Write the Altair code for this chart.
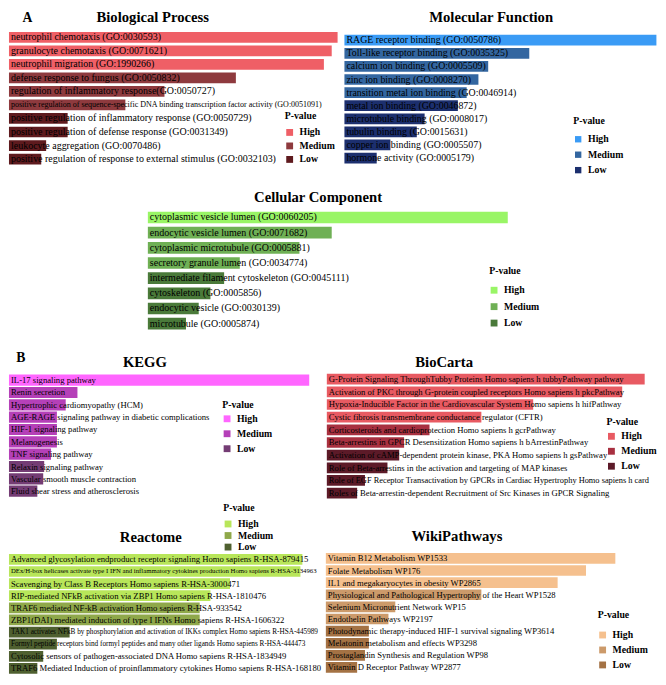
import altair as alt
import pandas as pd

# ---------------- data ----------------
levels3 = ["High", "Medium", "Low"]

bp_terms = [
    "neutrophil chemotaxis (GO:0030593)",
    "granulocyte chemotaxis (GO:0071621)",
    "neutrophil migration (GO:1990266)",
    "defense response to fungus (GO:0050832)",
    "regulation of inflammatory response(GO:0050727)",
    "positive regulation of sequence-specific DNA binding transcription factor activity (GO:0051091)",
    "positive regulation of inflammatory response (GO:0050729)",
    "positive regulation of defense response (GO:0031349)",
    "leukocyte aggregation (GO:0070486)",
    "positive regulation of response to external stimulus (GO:0032103)",
]
bp_values = [336, 330, 322, 232, 159, 119, 60, 60, 38, 33]
bp_levels = ["High"] * 3 + ["Medium"] * 3 + ["Low"] * 4

mf_terms = [
    "RAGE receptor binding (GO:0050786)",
    "Toll-like receptor binding (GO:0035325)",
    "calcium ion binding (GO:0005509)",
    "zinc ion binding (GO:0008270)",
    "transition metal ion binding (GO:0046914)",
    "metal ion binding (GO:0046872)",
    "microtubule binding (GO:0008017)",
    "tubulin binding (GO:0015631)",
    "copper ion binding (GO:0005507)",
    "hormone activity (GO:0005179)",
]
mf_values = [319, 189, 147, 137, 125, 116, 82, 74, 47, 33]
mf_levels = ["High"] + ["Medium"] * 4 + ["Low"] * 5

cc_terms = [
    "cytoplasmic vesicle lumen (GO:0060205)",
    "endocytic vesicle lumen (GO:0071682)",
    "cytoplasmic microtubule (GO:0005881)",
    "secretory granule lumen (GO:0034774)",
    "intermediate filament cytoskeleton (GO:0045111)",
    "cytoskeleton (GO:0005856)",
    "endocytic vesicle (GO:0030139)",
    "microtubule (GO:0005874)",
]
cc_values = [368, 188, 155, 94, 78, 64, 52, 39]
cc_levels = ["High"] + ["Medium"] * 3 + ["Low"] * 4

kegg_terms = [
    "IL-17 signaling pathway",
    "Renin secretion",
    "Hypertrophic cardiomyopathy (HCM)",
    "AGE-RAGE signaling pathway in diabetic complications",
    "HIF-1 signaling pathway",
    "Melanogenesis",
    "TNF signaling pathway",
    "Relaxin signaling pathway",
    "Vascular smooth muscle contraction",
    "Fluid shear stress and atherosclerosis",
]
kegg_values = [307, 70, 58, 49, 49, 49, 43, 36, 35, 29]
kegg_levels = ["High"] + ["Medium"] * 6 + ["Low"] * 3

bio_terms = [
    "G-Protein Signaling ThroughTubby Proteins Homo sapiens h tubbyPathway pathway",
    "Activation of PKC through G-protein coupled receptors Homo sapiens h pkcPathway",
    "Hypoxia-Inducible Factor in the Cardiovascular System Homo sapiens h hifPathway",
    "Cystic fibrosis transmembrane conductance regulator (CFTR)",
    "Corticosteroids and cardioprotection Homo sapiens h gcrPathway",
    "Beta-arrestins in GPCR Desensitization Homo sapiens h bArrestinPathway",
    "Activation of cAMP-dependent protein kinase, PKA Homo sapiens h gsPathway",
    "Role of Beta-arrestins in the activation and targeting of MAP kinases",
    "Role of EGF Receptor Transactivation by GPCRs in Cardiac Hypertrophy Homo sapiens h card",
    "Roles of Beta-arrestin-dependent Recruitment of Src Kinases in GPCR Signaling",
]
bio_values = [325, 302, 211, 158, 105, 79, 74, 62, 39, 31]
bio_levels = ["High"] * 4 + ["Medium"] * 2 + ["Low"] * 4

rea_terms = [
    "Advanced glycosylation endproduct receptor signaling Homo sapiens R-HSA-879415",
    "DEx/H-box helicases activate type I IFN and inflammatory cytokines production Homo sapiens R-HSA-3134963",
    "Scavenging by Class B Receptors Homo sapiens R-HSA-3000471",
    "RIP-mediated NFkB activation via ZBP1 Homo sapiens R-HSA-1810476",
    "TRAF6 mediated NF-kB activation Homo sapiens R-HSA-933542",
    "ZBP1(DAI) mediated induction of type I IFNs Homo sapiens R-HSA-1606322",
    "TAK1 activates NFkB by phosphorylation and activation of IKKs complex Homo sapiens R-HSA-445989",
    "Formyl peptide receptors bind formyl peptides and many other ligands Homo sapiens R-HSA-444473",
    "Cytosolic sensors of pathogen-associated DNA Homo sapiens R-HSA-1834949",
    "TRAF6 Mediated Induction of proinflammatory cytokines Homo sapiens R-HSA-168180",
]
rea_values = [300, 298, 226, 206, 195, 195, 62, 49, 35, 29]
rea_levels = ["High"] * 4 + ["Medium"] * 2 + ["Low"] * 4

wiki_terms = [
    "Vitamin B12 Metabolism WP1533",
    "Folate Metabolism WP176",
    "IL1 and megakaryocytes in obesity WP2865",
    "Physiological and Pathological Hypertrophy of the Heart WP1528",
    "Selenium Micronutrient Network WP15",
    "Endothelin Pathways WP2197",
    "Photodynamic therapy-induced HIF-1 survival signaling WP3614",
    "Melatonin metabolism and effects WP3298",
    "Prostaglandin Synthesis and Regulation WP98",
    "Vitamin D Receptor Pathway WP2877",
]
wiki_values = [296, 266, 237, 159, 71, 64, 44, 44, 40, 32]
wiki_levels = ["High"] * 3 + ["Medium"] * 3 + ["Low"] * 4

# ---------------- styles / layout ----------------
S = 0.978
SY = 0.974
FONT = "Liberation Serif"


def cx(x):
    return (x - 1) * S


def cy(y):
    return 3 + (y - 2) * SY


panels = [
    dict(terms=bp_terms, values=bp_values, levels=bp_levels,
         colors=["#EF5F66", "#8E3A3E", "#5E1A1E"],
         x0=2, y_first=29, y_last=154, bar_h=11, fs=10.2, small={5: 8.2},
         leg=dict(x=284, y=105, sw=7, row=14, gap=16)),
    dict(terms=mf_terms, values=mf_values, levels=mf_levels,
         colors=["#3A9BF5", "#3366A0", "#1C2F6E"],
         x0=345, y_first=32, y_last=153, bar_h=11, fs=10.1, small={},
         leg=dict(x=579, y=110, sw=6.5, row=16, gap=18)),
    dict(terms=cc_terms, values=cc_values, levels=cc_levels,
         colors=["#99F566", "#6FB055", "#4A7A3A"],
         x0=144, y_first=214, y_last=323, bar_h=12, fs=10.2, small={},
         leg=dict(x=493, y=264, sw=7, row=17, gap=19)),
    dict(terms=kegg_terms, values=kegg_values, levels=kegg_levels,
         colors=["#FF66FF", "#B540B8", "#743C74"],
         x0=2, y_first=381, y_last=495, bar_h=11.5, fs=8.85, small={},
         leg=dict(x=220, y=401, sw=7, row=15.5, gap=14)),
    dict(terms=bio_terms, values=bio_values, levels=bio_levels,
         colors=["#E85A62", "#A83040", "#5C1A28"],
         x0=327, y_first=380, y_last=497, bar_h=11, fs=8.85, small={8: 8.55},
         leg=dict(x=613, y=419, sw=7, row=15.5, gap=14)),
    dict(terms=rea_terms, values=rea_values, levels=rea_levels,
         colors=["#B8E65A", "#8FA84A", "#4F6030"],
         x0=2, y_first=565, y_last=677, bar_h=11, fs=8.85, small={1: 6.9, 6: 7.4, 7: 7.4},
         leg=dict(x=221, y=507, sw=7, row=12, gap=16)),
    dict(terms=wiki_terms, values=wiki_values, levels=wiki_levels,
         colors=["#F5C08E", "#CC9A6A", "#A47244"],
         x0=326, y_first=564, y_last=676, bar_h=11, fs=8.8, small={},
         leg=dict(x=604, y=617, sw=7, row=15.5, gap=20)),
]

titles = [
    ("A", 21, 13, 14), ("Biological Process", 149, 13, 15), ("Molecular Function", 495, 13, 15),
    ("Cellular Component", 318, 198, 15), ("B", 14, 362, 14), ("KEGG", 141, 367, 15),
    ("BioCarta", 447, 367, 15), ("Reactome", 147, 547, 15), ("WikiPathways", 460, 546, 15),
]


def make_panel(P):
    terms = P["terms"]
    n = len(terms)
    pitch = (P["y_last"] - P["y_first"]) / (n - 1)
    p = 1 - P["bar_h"] / pitch
    df = pd.DataFrame({
        "term": terms,
        "value": P["values"],
        "level": P["levels"],
        "fs": [P["small"].get(i, P["fs"]) * S for i in range(n)],
    })
    xs = alt.Scale(domain=[0, 100], range=[cx(P["x0"]), cx(P["x0"] + 100)], nice=False, zero=False)
    ys = alt.Scale(domain=terms, range=[cy(P["y_first"] - pitch / 2), cy(P["y_last"] + pitch / 2)],
                   paddingInner=p, paddingOuter=p / 2)
    L = P["leg"]
    lab_fs = 10 * S
    legend = alt.Legend(
        title="P-value", orient="none", legendX=cx(L["x"]), legendY=cy(L["y"]),
        padding=0, offset=0,
        titleFont=FONT, titleFontSize=lab_fs, titleFontWeight="bold", titleColor="black",
        labelFont=FONT, labelFontSize=lab_fs, labelFontWeight="bold", labelColor="black",
        symbolType="square", symbolSize=(L["sw"] * S) ** 2, symbolStrokeWidth=0,
        symbolOpacity=1, labelOffset=5,
        rowPadding=max(0.5, (L["row"] - 10) * SY - 1.4), titlePadding=(L["gap"] - 10) * SY + 0.6,
    )
    base = alt.Chart(df)
    bars = base.mark_bar(opacity=1).encode(
        x=alt.X("value:Q", scale=xs, axis=None),
        y=alt.Y("term:N", scale=ys, axis=None, sort=terms),
        color=alt.Color("level:N", scale=alt.Scale(domain=levels3, range=P["colors"]), legend=legend),
    )
    texts = base.mark_text(align="left", baseline="middle", dx=2, font=FONT, color="black").encode(
        x=alt.XDatum(0, scale=xs),
        y=alt.Y("term:N", scale=ys, axis=None, sort=terms),
        text="term:N",
        size=alt.Size("fs:Q", scale=None, legend=None),
    )
    return alt.layer(bars, texts)


tdf = pd.DataFrame({
    "t": [t[0] for t in titles],
    "px": [cx(t[1]) for t in titles],
    "py": [cy(t[2]) for t in titles],
    "fs": [t[3] * S for t in titles],
})
title_layer = alt.Chart(tdf).mark_text(align="center", baseline="alphabetic", font=FONT,
                                        fontWeight="bold", color="black").encode(
    x=alt.X("px:Q", scale=None, axis=None),
    y=alt.Y("py:Q", scale=None, axis=None),
    text="t:N",
    size=alt.Size("fs:Q", scale=None, legend=None),
)

chart = alt.layer(*[make_panel(P) for P in panels], title_layer).resolve_scale(
    x="independent", y="independent", color="independent"
).properties(
    width=650, height=669, padding=0, autosize=alt.AutoSizeParams(type="none"),
    background="white",
).configure_view(stroke=None)

chart.save("out.html", embed_options={"renderer": "svg", "actions": False})
